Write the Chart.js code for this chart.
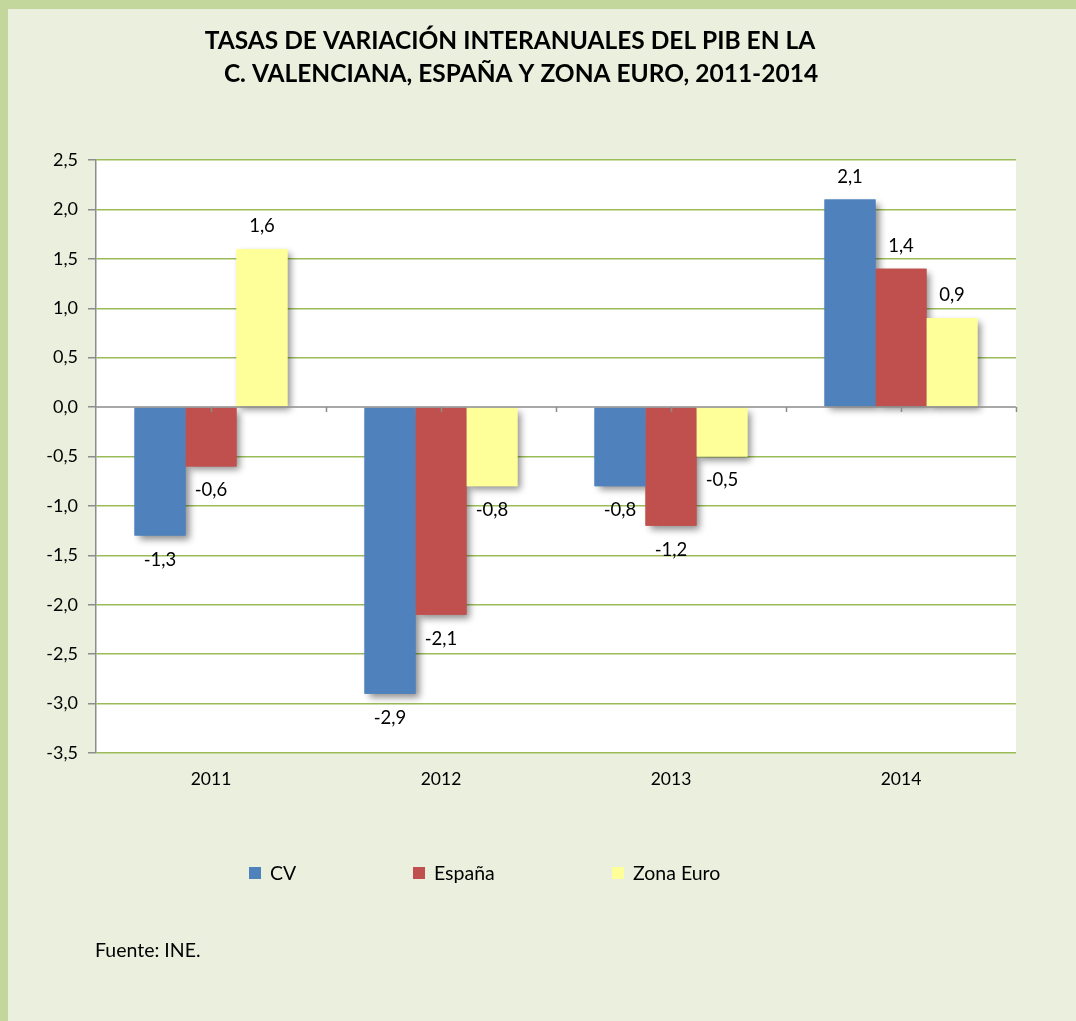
<!DOCTYPE html>
<html>
<head>
<meta charset="utf-8">
<script src="https://cdn.jsdelivr.net/npm/chart.js@4.4.0/dist/chart.umd.min.js"></script>
<style>
html,body{margin:0;padding:0;background:#ebf0de;}
#wrap{position:relative;width:1076px;height:1021px;}
</style>
</head>
<body>
<div id="wrap"><canvas id="c" width="1076" height="1021"></canvas></div>
<script>
const categories = ['2011', '2012', '2013', '2014'];
const cvValues = [-1.3, -2.9, -0.8, 2.1];
const espanaValues = [-0.6, -2.1, -1.2, 1.4];
const zonaEuroValues = [1.6, -0.8, -0.5, 0.9];
const seriesNames = ['CV', 'España', 'Zona Euro'];
const titleLines = ['TASAS DE VARIACIÓN INTERANUALES DEL PIB EN LA', 'C. VALENCIANA, ESPAÑA Y ZONA EURO, 2011-2014'];
const sourceNote = 'Fuente: INE.';
const yMin = -3.5, yMax = 2.5, yStep = 0.5;

const colors = ['#4f81bd', '#c0504d', '#ffff99'];
const FONT = 'Lato, "Open Sans", sans-serif';
const fmt = v => v.toFixed(1).replace('.', ',');

const decoPlugin = {
  id: 'deco',
  beforeDraw(chart) {
    const ctx = chart.ctx;
    ctx.save();
    ctx.fillStyle = '#ebf0de';
    ctx.fillRect(0, 0, chart.width, chart.height);
    ctx.fillStyle = '#c3d69b';
    ctx.fillRect(0, 0, chart.width, 9);
    ctx.fillRect(0, 0, 8, chart.height);
    const a = chart.chartArea;
    ctx.fillStyle = '#ffffff';
    ctx.fillRect(a.left, a.top, a.right - a.left, a.bottom - a.top);
    // title
    ctx.fillStyle = '#000';
    ctx.font = 'bold 24.5px ' + FONT;
    ctx.textAlign = 'center';
    ctx.textBaseline = 'middle';
    ctx.fillText(titleLines[0], 510, 41);
    ctx.fillText(titleLines[1], 521, 74);
    // legend
    const legendX = [249, 413, 612];
    ctx.font = '19.5px ' + FONT;
    ctx.textAlign = 'left';
    chart.data.datasets.forEach((ds, i) => {
      ctx.fillStyle = ds.backgroundColor;
      ctx.fillRect(legendX[i], 867, 12, 12);
      ctx.fillStyle = '#000';
      ctx.fillText(ds.label, legendX[i] + 21, 874);
    });
    // source
    ctx.font = '19.5px ' + FONT;
    ctx.fillText(sourceNote, 95, 951);
    ctx.restore();
  },
  beforeDatasetsDraw(chart) {
    const ctx = chart.ctx;
    ctx.save();
    ctx.shadowColor = 'rgba(0,0,0,0.45)';
    ctx.shadowBlur = 7;
    ctx.shadowOffsetX = 4;
    ctx.shadowOffsetY = 4;
    chart.data.datasets.forEach((ds, i) => {
      const meta = chart.getDatasetMeta(i);
      meta.data.forEach(bar => {
        const top = Math.min(bar.y, bar.base), h = Math.abs(bar.base - bar.y);
        ctx.fillStyle = ds.backgroundColor;
        ctx.fillRect(bar.x - bar.width / 2, top, bar.width, h);
      });
    });
    ctx.restore();
  },
  afterDatasetsDraw(chart) {
    const ctx = chart.ctx;
    const xs = chart.scales.x, ys = chart.scales.y;
    ctx.save();
    // zero line and its ticks
    const y0 = ys.getPixelForValue(0);
    ctx.strokeStyle = '#8c8c8c';
    ctx.lineWidth = 1.5;
    ctx.beginPath();
    ctx.moveTo(xs.left, y0);
    ctx.lineTo(xs.right, y0);
    const step = (xs.right - xs.left) / categories.length / 2;
    for (let k = 1; k <= categories.length * 2; k++) {
      const x = Math.round(xs.left + k * step) + 0.5;
      ctx.moveTo(x, y0);
      ctx.lineTo(x, y0 + 5);
    }
    ctx.stroke();
    // data labels
    ctx.fillStyle = '#000';
    ctx.font = '18.5px ' + FONT;
    ctx.textAlign = 'center';
    ctx.textBaseline = 'middle';
    chart.data.datasets.forEach((ds, i) => {
      const meta = chart.getDatasetMeta(i);
      meta.data.forEach((bar, j) => {
        const v = ds.data[j];
        const y = v >= 0 ? bar.y - 23 : bar.y + 24;
        ctx.fillText(fmt(v), bar.x, y);
      });
    });
    ctx.restore();
  }
};

new Chart(document.getElementById('c'), {
  type: 'bar',
  data: {
    labels: categories,
    datasets: [
      { label: seriesNames[0], data: cvValues, backgroundColor: colors[0] },
      { label: seriesNames[1], data: espanaValues, backgroundColor: colors[1] },
      { label: seriesNames[2], data: zonaEuroValues, backgroundColor: colors[2] }
    ]
  },
  options: {
    responsive: false,
    animation: false,
    devicePixelRatio: 1,
    layout: { padding: { left: 0, right: 60, top: 160, bottom: 228 } },
    plugins: { legend: { display: false }, title: { display: false }, tooltip: { enabled: false } },
    datasets: { bar: { categoryPercentage: 0.665, barPercentage: 1.0 } },
    scales: {
      x: {
        grid: { display: false, drawTicks: false },
        border: { display: false },
        ticks: { color: '#000', font: { family: FONT, size: 17.5 }, padding: 16 },
        afterFit(s) { s.height = 40; }
      },
      y: {
        min: yMin, max: yMax,
        grid: {
          color: ctx => (ctx.tick && ctx.tick.value === 0) ? 'rgba(0,0,0,0)' : '#9bbb59',
          lineWidth: 1.5,
          tickLength: 8,
          tickColor: '#8c8c8c',
          drawOnChartArea: true
        },
        border: { display: true, color: '#8c8c8c', width: 1.5 },
        ticks: {
          stepSize: yStep,
          color: '#000',
          font: { family: FONT, size: 18 },
          padding: 10,
          callback: v => fmt(v)
        },
        afterFit(s) { s.width = 96; }
      }
    }
  },
  plugins: [decoPlugin]
});
</script>
</body>
</html>
